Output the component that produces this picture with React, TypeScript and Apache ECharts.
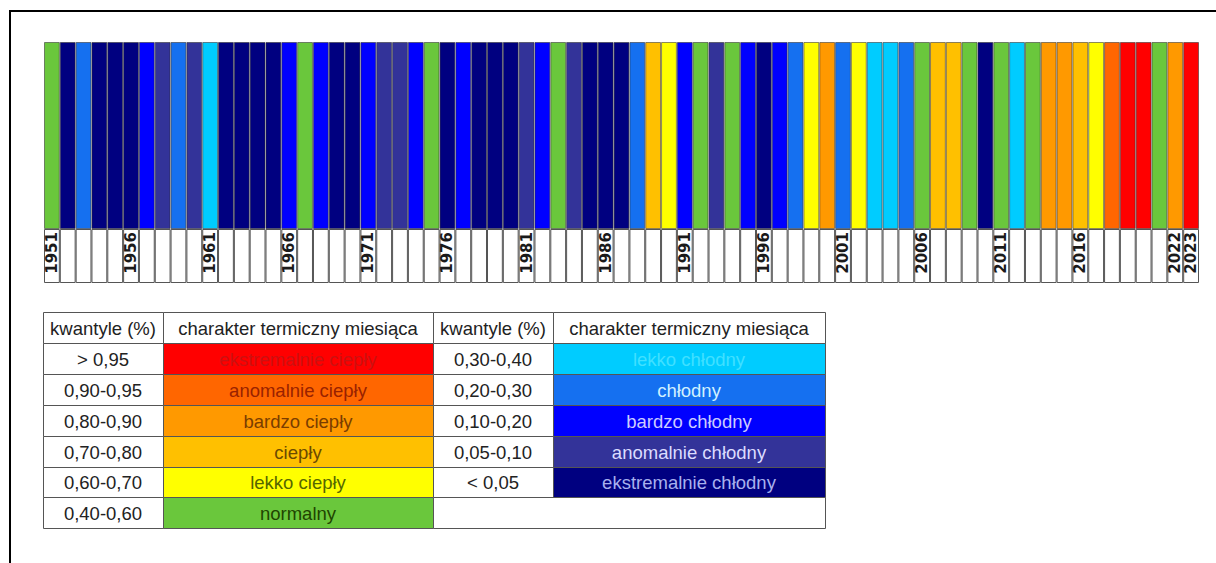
import React, { useEffect, useRef } from 'react';
import * as echarts from 'echarts';

const years = [
  '1951', '1952', '1953', '1954', '1955', '1956', '1957', '1958', '1959', '1960',
  '1961', '1962', '1963', '1964', '1965', '1966', '1967', '1968', '1969', '1970',
  '1971', '1972', '1973', '1974', '1975', '1976', '1977', '1978', '1979', '1980',
  '1981', '1982', '1983', '1984', '1985', '1986', '1987', '1988', '1989', '1990',
  '1991', '1992', '1993', '1994', '1995', '1996', '1997', '1998', '1999', '2000',
  '2001', '2002', '2003', '2004', '2005', '2006', '2007', '2008', '2009', '2010',
  '2011', '2012', '2013', '2014', '2015', '2016', '2017', '2018', '2019', '2020',
  '2021', '2022', '2023',
];

// thermal class of each year (codes below)
const yearClass = [
  'N', 'C5', 'C2', 'C5', 'C5', 'C5', 'C3', 'C4', 'C2', 'C4',
  'C1', 'C5', 'C5', 'C5', 'C5', 'C3', 'N', 'C3', 'C5', 'C5',
  'C3', 'C4', 'C4', 'C3', 'N', 'C5', 'C3', 'C5', 'C5', 'C5',
  'C4', 'C3', 'N', 'C4', 'C5', 'C5', 'C5', 'C2', 'W2', 'W1',
  'C3', 'N', 'C4', 'N', 'C3', 'C5', 'C3', 'C2', 'W1', 'W3',
  'C2', 'W1', 'C1', 'C1', 'C2', 'N', 'W2', 'W2', 'N', 'C5',
  'N', 'C1', 'N', 'W3', 'W3', 'W2', 'W1', 'W4', 'W5', 'W5',
  'N', 'W3', 'W5',
];

const tickYears = [
  '1951', '1956', '1961', '1966', '1971', '1976', '1981', '1986', '1991',
  '1996', '2001', '2006', '2011', '2016', '2022', '2023',
];

const classCodes = ['W5', 'W4', 'W3', 'W2', 'W1', 'N', 'C1', 'C2', 'C3', 'C4', 'C5'];
const classNames = [
  'ekstremalnie ciepły', 'anomalnie ciepły', 'bardzo ciepły', 'ciepły', 'lekko ciepły', 'normalny',
  'lekko chłodny', 'chłodny', 'bardzo chłodny', 'anomalnie chłodny', 'ekstremalnie chłodny',
];
const classQuantiles = [
  '> 0,95', '0,90-0,95', '0,80-0,90', '0,70-0,80', '0,60-0,70', '0,40-0,60',
  '0,30-0,40', '0,20-0,30', '0,10-0,20', '0,05-0,10', '< 0,05',
];
const classColors = [
  '#FF0000', '#FF6600', '#FF9900', '#FFC000', '#FFFF00', '#6AC73C',
  '#00CCFF', '#1570F0', '#0000FF', '#333399', '#000080',
];
const classTextColors = [
  '#cc1111', '#992200', '#7a3d00', '#6b4a00', '#556600', '#1f4400',
  '#40e0ff', '#d0f0ff', '#ccccff', '#dcdcff', '#a8b0ee',
];
const headerLabels = ['kwantyle (%)', 'charakter termiczny miesiąca'];

function buildTable(): any[] {
  const colX = [43, 163, 433, 553, 825];
  const top = 312;
  const rowH = 30.9;
  const els: any[] = [];
  const cell = (x0: number, x1: number, y0: number, y1: number, fill: string, text: string, color: string) => {
    els.push({
      type: 'rect',
      shape: { x: Math.round(x0) + 0.5, y: Math.round(y0) + 0.5, width: Math.round(x1) - Math.round(x0), height: Math.round(y1) - Math.round(y0) },
      style: { fill, stroke: '#555', lineWidth: 1 },
      z: 10,
    });
    if (text) {
      els.push({
        type: 'text',
        x: (x0 + x1) / 2,
        y: (y0 + y1) / 2 + 1,
        style: {
          text, fill: color, fontSize: 18.5, fontFamily: '"Liberation Sans", Arial, sans-serif',
          align: 'center', verticalAlign: 'middle', textAlign: 'center', textVerticalAlign: 'middle',
        },
        z: 11,
      });
    }
  };
  // header
  for (let b = 0; b < 2; b++) {
    cell(colX[b * 2], colX[b * 2 + 1], top, top + rowH, '#fff', headerLabels[0], '#222');
    cell(colX[b * 2 + 1], colX[b * 2 + 2], top, top + rowH, '#fff', headerLabels[1], '#222');
  }
  // left block: warm + normal, right block: cool
  for (let i = 0; i < classCodes.length; i++) {
    const left = i < 6;
    const r = left ? i + 1 : i - 5;
    const y0 = top + r * rowH;
    const y1 = y0 + rowH;
    const c = left ? 0 : 2;
    cell(colX[c], colX[c + 1], y0, y1, '#fff', classQuantiles[i], '#222');
    cell(colX[c + 1], colX[c + 2], y0, y1, classColors[i], classNames[i], classTextColors[i]);
  }
  // merged empty cell on the right
  cell(colX[2], colX[4], top + 6 * rowH, top + 7 * rowH, '#fff', '', '#222');
  return els;
}

export default function App() {
  const ref = useRef<HTMLDivElement>(null);
  useEffect(() => {
    if (!ref.current) return;
    const chart = echarts.init(ref.current, null, { renderer: 'svg' });
    const colorOf = (code: string) => classColors[classCodes.indexOf(code)];
    chart.setOption({
      animation: false,
      backgroundColor: '#ffffff',
      grid: [
        { left: 44, top: 42, width: 1155, height: 187 },
        { left: 44, top: 229, width: 1155, height: 54 },
      ],
      xAxis: [
        { type: 'category', data: years, gridIndex: 0, show: false },
        { type: 'category', data: years, gridIndex: 1, show: false },
      ],
      yAxis: [
        { type: 'value', min: 0, max: 1, gridIndex: 0, show: false },
        { type: 'value', min: 0, max: 1, gridIndex: 1, show: false },
      ],
      series: [
        {
          type: 'bar',
          xAxisIndex: 0,
          yAxisIndex: 0,
          barWidth: '100%',
          data: yearClass.map((c) => ({ value: 1, itemStyle: { color: colorOf(c) } })),
          itemStyle: { borderColor: 'rgba(45,45,45,0.55)', borderWidth: 1 },
        },
        {
          type: 'bar',
          xAxisIndex: 1,
          yAxisIndex: 1,
          barWidth: '100%',
          data: years.map(() => 1),
          itemStyle: { color: '#ffffff', borderColor: '#555', borderWidth: 1 },
          label: {
            show: true,
            position: 'insideTop',
            distance: 3,
            rotate: 90,
            align: 'right',
            verticalAlign: 'middle',
            fontFamily: '"DejaVu Sans", sans-serif',
            fontWeight: 'bold',
            fontSize: 15,
            color: '#1a1a1a',
            formatter: (p: any) => (tickYears.includes(p.name) ? p.name : ''),
          },
        },
      ],
      graphic: [
        { type: 'line', shape: { x1: 9, y1: 11, x2: 1216, y2: 11 }, style: { stroke: '#000', lineWidth: 2 }, z: 20 },
        { type: 'line', shape: { x1: 10, y1: 10, x2: 10, y2: 563 }, style: { stroke: '#000', lineWidth: 2 }, z: 20 },
        ...buildTable(),
      ],
    });
    return () => chart.dispose();
  }, []);
  return (
    <div
      ref={ref}
      style={{ position: 'fixed', left: 0, top: 0, width: 1216, height: 563, background: '#fff' }}
    />
  );
}
